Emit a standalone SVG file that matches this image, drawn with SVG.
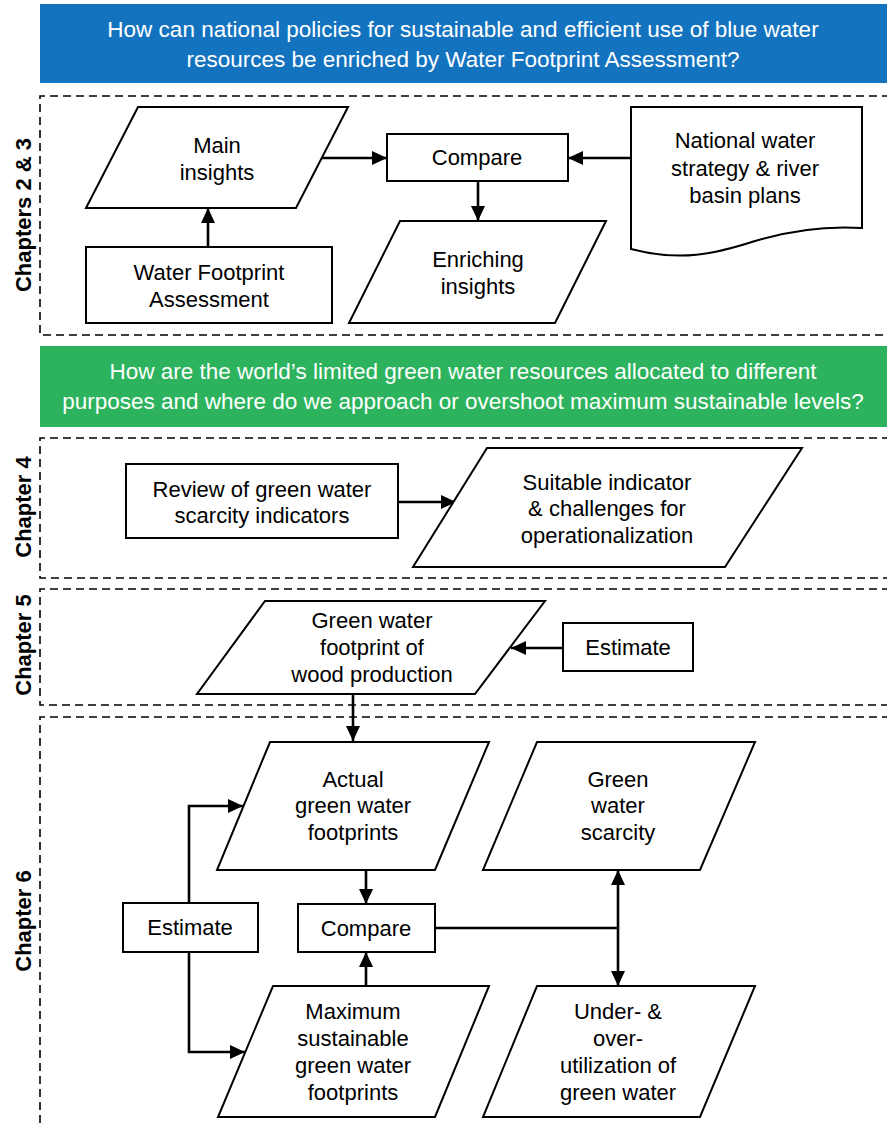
<svg xmlns="http://www.w3.org/2000/svg" width="887" height="1125" viewBox="0 0 887 1125">
<style>
.sh{fill:#fff;stroke:#000;stroke-width:2}
.t{font-family:"Liberation Sans",Arial,sans-serif;font-size:22px;fill:#000;text-anchor:middle}
.bt{font-family:"Liberation Sans",Arial,sans-serif;font-size:22.5px;fill:#fff;text-anchor:middle}
.ch{font-family:"Liberation Sans",Arial,sans-serif;font-size:22px;font-weight:bold;fill:#000;text-anchor:middle}
.dash{fill:none;stroke:#000;stroke-width:1.6;stroke-dasharray:8 5}
.c{fill:none;stroke:#000;stroke-width:2.6}
.ca{fill:none;stroke:#000;stroke-width:2.6;marker-end:url(#arr)}
</style>
<defs>
<marker id="arr" viewBox="0 0 15 14" refX="15" refY="7" markerWidth="15" markerHeight="14" markerUnits="userSpaceOnUse" orient="auto-start-reverse">
<path d="M0,0 L15,7 L0,14 z" fill="#000"/>
</marker>
</defs>
<rect width="887" height="1125" fill="#fff"/>

<g id="banner-blue">
<rect x="40" y="4" width="850" height="79" fill="#1473BF"/>
<text class="bt" x="463" y="37">How can national policies for sustainable and efficient use of blue water</text>
<text class="bt" x="463" y="67">resources be enriched by Water Footprint Assessment?</text>
</g>
<g id="banner-green">
<rect x="40" y="346" width="850" height="81" fill="#2DB35E"/>
<text class="bt" x="463" y="379">How are the world’s limited green water resources allocated to different</text>
<text class="bt" x="463" y="409">purposes and where do we approach or overshoot maximum sustainable levels?</text>
</g>

<g id="sections">
<path class="dash" d="M890,96 H40 V335 H890"/>
<path class="dash" d="M890,438 H40 V578 H890"/>
<path class="dash" d="M890,589 H40 V705 H890"/>
<path class="dash" d="M890,717 H40 V1125"/>
<text class="ch" transform="translate(31,215) rotate(-90)">Chapters 2 &amp; 3</text>
<text class="ch" transform="translate(31,507) rotate(-90)">Chapter 4</text>
<text class="ch" transform="translate(31,645) rotate(-90)">Chapter 5</text>
<text class="ch" transform="translate(31,921) rotate(-90)">Chapter 6</text>
</g>

<g id="connectors">
<line class="ca" x1="322" y1="158" x2="387" y2="158"/>
<line class="ca" x1="208" y1="247" x2="208" y2="208"/>
<line class="ca" x1="631" y1="158" x2="568" y2="158"/>
<line class="ca" x1="478" y1="181" x2="478" y2="221"/>
<line class="ca" x1="397" y1="502" x2="456" y2="502"/>
<line class="ca" x1="563" y1="648" x2="511" y2="648"/>
<line class="ca" x1="353" y1="694" x2="353" y2="741"/>
<polyline class="ca" points="189,903 189,806 243,806"/>
<polyline class="ca" points="189,952 189,1052 245,1052"/>
<line class="ca" x1="366" y1="870" x2="366" y2="904"/>
<line class="ca" x1="366" y1="986" x2="366" y2="952"/>
<polyline class="c" points="435,928 618,928"/>
<line class="ca" x1="618" y1="928" x2="618" y2="870"/>
<line class="ca" x1="618" y1="928" x2="618" y2="986"/>
</g>

<g id="main-insights">
<polygon class="sh" points="138,107 348,107 296,208 86,208"/>
<text class="t" x="217" y="153">Main</text>
<text class="t" x="217" y="180">insights</text>
</g>
<g id="wfa">
<rect class="sh" x="86" y="247" width="246" height="76"/>
<text class="t" x="209" y="280">Water Footprint</text>
<text class="t" x="209" y="307">Assessment</text>
</g>
<g id="compare1">
<rect class="sh" x="387" y="134" width="181" height="47"/>
<text class="t" x="477" y="165">Compare</text>
</g>
<g id="enriching">
<polygon class="sh" points="400,221 606,221 555,323 349,323"/>
<text class="t" x="478" y="267">Enriching</text>
<text class="t" x="478" y="294">insights</text>
</g>
<g id="national">
<path class="sh" d="M631,107 H862 V228 C830,226 795,229 755,241 C715,254 680,262 631,249 Z"/>
<text class="t" x="745" y="148">National water</text>
<text class="t" x="745" y="176">strategy &amp; river</text>
<text class="t" x="745" y="203">basin plans</text>
</g>

<g id="review">
<rect class="sh" x="126" y="464" width="272" height="74"/>
<text class="t" x="262" y="497">Review of green water</text>
<text class="t" x="262" y="523">scarcity indicators</text>
</g>
<g id="suitable">
<polygon class="sh" points="487,448 802,448 725,567 413,567"/>
<text class="t" x="607" y="490">Suitable indicator</text>
<text class="t" x="607" y="516">&amp; challenges for</text>
<text class="t" x="607" y="543">operationalization</text>
</g>

<g id="gwf-wood">
<polygon class="sh" points="265,601 545,601 475,694 197,694"/>
<text class="t" x="372" y="628">Green water</text>
<text class="t" x="372" y="655">footprint of</text>
<text class="t" x="372" y="682">wood production</text>
</g>
<g id="estimate1">
<rect class="sh" x="563" y="623" width="130" height="48"/>
<text class="t" x="628" y="655">Estimate</text>
</g>

<g id="actual">
<polygon class="sh" points="270,742 489,742 435,870 217,870"/>
<text class="t" x="353" y="787">Actual</text>
<text class="t" x="353" y="813">green water</text>
<text class="t" x="353" y="840">footprints</text>
</g>
<g id="estimate2">
<rect class="sh" x="123" y="903" width="135" height="49"/>
<text class="t" x="190" y="935">Estimate</text>
</g>
<g id="compare2">
<rect class="sh" x="298" y="904" width="137" height="48"/>
<text class="t" x="366" y="936">Compare</text>
</g>
<g id="maximum">
<polygon class="sh" points="273,986 489,986 435,1117 218,1117"/>
<text class="t" x="353" y="1019">Maximum</text>
<text class="t" x="353" y="1046">sustainable</text>
<text class="t" x="353" y="1073">green water</text>
<text class="t" x="353" y="1100">footprints</text>
</g>
<g id="scarcity">
<polygon class="sh" points="537,742 755,742 700,870 483,870"/>
<text class="t" x="618" y="787">Green</text>
<text class="t" x="618" y="813">water</text>
<text class="t" x="618" y="840">scarcity</text>
</g>
<g id="utilization">
<polygon class="sh" points="537,986 755,986 700,1117 483,1117"/>
<text class="t" x="618" y="1019">Under- &amp;</text>
<text class="t" x="618" y="1046">over-</text>
<text class="t" x="618" y="1073">utilization of</text>
<text class="t" x="618" y="1100">green water</text>
</g>
</svg>
